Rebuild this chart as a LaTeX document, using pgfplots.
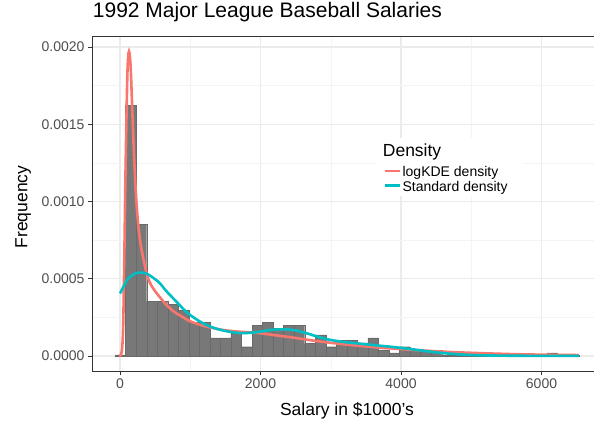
\documentclass[border=0pt]{standalone}
\usepackage{fontspec}
\setmainfont{Liberation Sans}
\usepackage{pgfplots}
\pgfplotsset{compat=1.18}
\definecolor{ggred}{HTML}{F8766D}
\definecolor{ggteal}{HTML}{00BFC4}
\definecolor{ticklab}{HTML}{4D4D4D}
\definecolor{gridmaj}{HTML}{EBEBEB}
\definecolor{gridmin}{HTML}{F4F4F4}
\definecolor{axisc}{HTML}{333333}
\definecolor{barfill}{HTML}{787878}
\definecolor{baredge}{HTML}{6A6A6A}
\begin{document}
\begin{tikzpicture}
\useasboundingbox (0,0) rectangle (594pt,421pt);
\begin{axis}[
  at={(92pt,50pt)}, anchor=south west,
  scale only axis, width=502pt, height=334.3pt,
  xmin=-399, xmax=6747, ymin=-0.0000971, ymax=0.0020667,
  axis x line*=box, axis y line*=left,
  axis line style={-, draw=axisc, line width=0.9pt},
  every outer y axis line/.append style={-},
  xtick={0,2000,4000,6000}, xticklabels={0,2000,4000,6000},
  ytick={0,0.0005,0.001,0.0015,0.002},
  yticklabels={0.0000,0.0005,0.0010,0.0015,0.0020},
  scaled ticks=false,
  minor x tick num=1, minor y tick num=1,
  xtick pos=left, ytick pos=left,
  tick align=outside, major tick length=4pt, minor tick length=0pt,
  tick style={draw=axisc, line width=0.9pt},
  grid=both,
  major grid style={draw=gridmaj, line width=1.1pt},
  minor grid style={draw=gridmin, line width=0.55pt},
  ticklabel style={font=\fontsize{14}{16}\selectfont, text=ticklab},
  xlabel={Salary in \$1000's}, ylabel={Frequency},
  xlabel style={font=\fontsize{17.5}{20}\selectfont, at={(axis description cs:0.508,0)}, anchor=base, yshift=-44pt},
  ylabel style={font=\fontsize{17.5}{20}\selectfont, at={(axis description cs:-0.1285,0.4906)}, anchor=base},
  title={1992 Major League Baseball Salaries},
  title style={font=\fontsize{21}{25}\selectfont, at={(axis description cs:0.0014,1.0401)}, anchor=base west, inner sep=0pt},
  legend style={at={(axis cs:3722,0.0012492)}, anchor=north west, draw=none, fill=white, inner sep=2pt, outer sep=0pt, font=\fontsize{14}{16}\selectfont, row sep=0pt, column sep=0pt, nodes={inner sep=1.5pt}},
  legend cell align=left,
  legend image code/.code={\draw[#1, line width=2.6pt] (0pt,1.5pt) -- (15pt,1.5pt);},
]
\addplot[ybar interval, fill=barfill, draw=baredge, line width=0.3pt, forget plot] coordinates {
(-71,0.000007) (79,0.001624) (229,0.000854) (379,0.000356) (529,0.000356)
(679,0.000336) (829,0.000298) (979,0.000218) (1129,0.000218) (1279,0.000118)
(1429,0.000118) (1579,0.000151) (1729,0.00006) (1879,0.0002) (2029,0.00022)
(2179,0.00018) (2329,0.0002) (2479,0.0002) (2629,0.00008) (2779,0.000136)
(2929,0.00006) (3079,0.0001) (3229,0.0001) (3379,0.000085) (3529,0.000118)
(3679,0.00004) (3829,0.00002) (3979,0.00006) (4129,0.00004) (4279,0.000035)
(4429,0.000035) (4579,0.000007) (4729,0.000007) (4879,0.000005) (5029,0.000005)
(5179,0) (5329,0) (5479,0) (5629,0) (5779,0)
(5929,0) (6079,0.00002) (6229,0.000003) (6379,0.000003) (6529,0)
};

\addplot[ggred, line width=2.6pt, smooth] coordinates {
(-15,0) (10,0.000005) (30,0.00005) (45,0.0002) (60,0.0006) (75,0.0011)
(90,0.0015) (105,0.00183) (120,0.00196) (135,0.00196) (150,0.00188)
(166,0.00170) (185,0.00146) (204,0.00125) (230,0.00102) (261,0.00084)
(295,0.00072) (332,0.00063) (380,0.00053) (430,0.00047) (498,0.00042)
(569,0.00038) (640,0.00034) (759,0.00029) (880,0.000255) (996,0.000225)
(1120,0.000205) (1234,0.00019) (1471,0.000168) (1708,0.000157) (1946,0.00015)
(2200,0.000135) (2450,0.00012) (2700,0.000103) (2950,0.000088) (3200,0.000075)
(3450,0.000064) (3700,0.000054) (3950,0.000046) (4300,0.000036) (4650,0.000027)
(5100,0.000019) (5600,0.000012) (6100,0.000008) (6530,0.000006)
};
\addlegendentry{logKDE density\rule[-3.5pt]{0pt}{11.5pt}}

\addplot[ggteal, line width=2.6pt, smooth] coordinates {
(0,0.000405) (50,0.00045) (95,0.00049) (150,0.000515) (200,0.00053)
(260,0.00054) (309,0.00054) (370,0.000535) (427,0.00052) (500,0.000497)
(569,0.00047) (640,0.00043) (700,0.0004) (807,0.00035) (900,0.000305)
(1000,0.000265) (1120,0.000228) (1250,0.000197) (1375,0.000176) (1500,0.000162)
(1625,0.000152) (1750,0.000148) (1875,0.000151) (2000,0.000158) (2125,0.000167)
(2250,0.000172) (2375,0.000172) (2500,0.000166) (2650,0.000148) (2800,0.000127)
(2950,0.000108) (3150,0.000093) (3350,0.000083) (3600,0.000071) (3850,0.00006)
(4100,0.000047) (4350,0.000032) (4600,0.000019) (4850,0.00001) (5100,0.000005)
(5500,0.000002) (6000,0.000001) (6530,0.000001)
};
\addlegendentry{Standard density\rule[-3.5pt]{0pt}{11.5pt}}

\node[fill=white, anchor=north west, inner sep=0pt, minimum width=146pt, minimum height=27pt] at (axis cs:3658,0.001411) {};
\node[anchor=base west, inner sep=0pt, font=\fontsize{17.5}{20}\selectfont] at (axis cs:3739,0.00129) {Density};
\end{axis}
\end{tikzpicture}
\end{document}
